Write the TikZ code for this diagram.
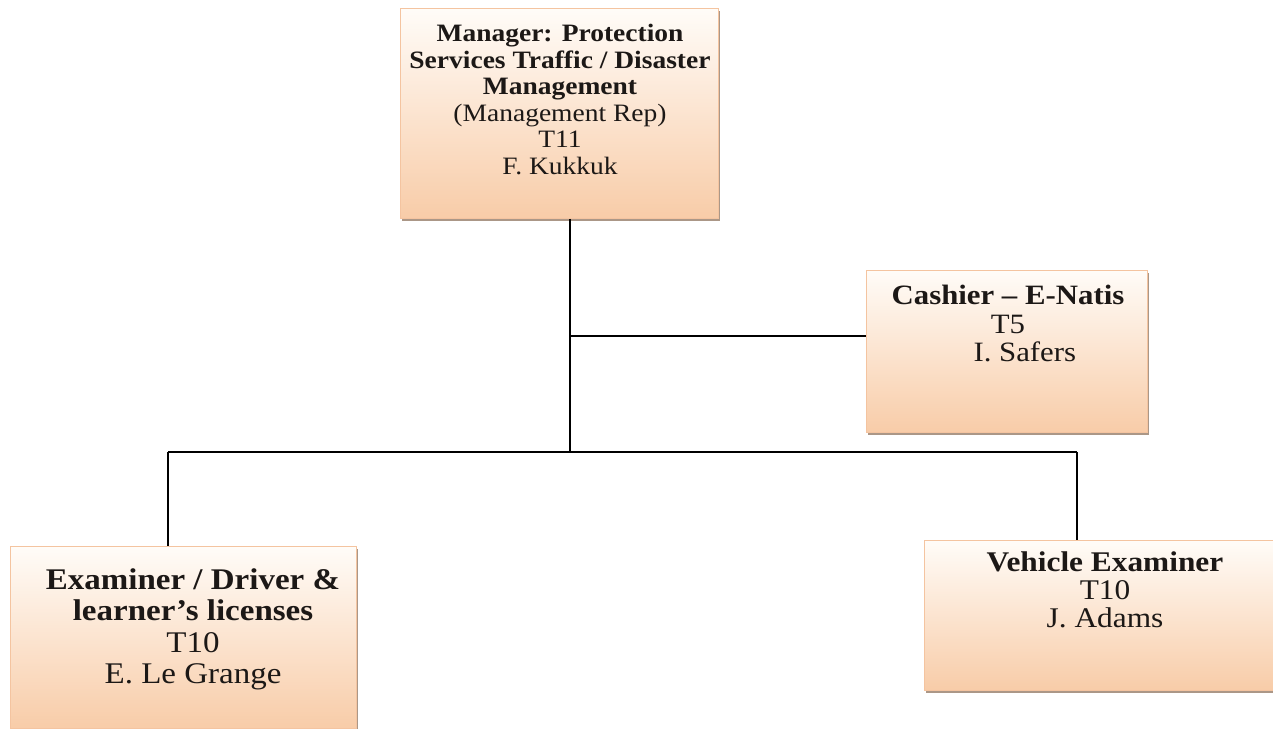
\documentclass[tikz,border=0pt]{standalone}
\usepackage{fontspec}
\setmainfont[FakeStretch=1.1]{Liberation Serif}
\usetikzlibrary{shadows}
\definecolor{peach}{RGB}{248,204,168}
\definecolor{peachtop}{RGB}{255,252,248}
\definecolor{peachline}{RGB}{244,196,160}
\definecolor{inkc}{RGB}{28,24,22}
\definecolor{shadowc}{RGB}{150,125,105}
\tikzset{
  orgbox/.style={rectangle, draw=peachline, line width=0.8pt,
    top color=peachtop, bottom color=peach,
    drop shadow={shadow xshift=2pt, shadow yshift=-3pt, fill=shadowc, opacity=0.8},
    inner sep=0pt},
  orgtext/.style={align=center, text=inkc, inner sep=0pt},
  link/.style={draw=black, line width=1.2pt}
}
\begin{document}
\begin{tikzpicture}[x=1pt,y=-1pt]
\useasboundingbox (0,0) rectangle (1273,728);
% boxes
\node[orgbox, minimum width=318pt, minimum height=210pt, anchor=north west] (mgr) at (400,8) {};
\node[orgbox, minimum width=281pt, minimum height=162pt, anchor=north west] (cash) at (866,270) {};
\node[orgbox, minimum width=346pt, minimum height=182pt, anchor=north west] (exam) at (10,546) {};
\node[orgbox, minimum width=352pt, minimum height=150pt, anchor=north west] (veh) at (924,540) {};
% texts
\node[orgtext, font=\fontsize{25}{26.6}\selectfont, anchor=north] (mgrtxt) at (560,24)
  {\textbf{Manager: Protection}\\ \textbf{Services Traffic / Disaster}\\ \textbf{Management}\\ (Management Rep)\\ T11\\ F. Kukkuk};
\node[orgtext, font=\fontsize{28}{28.5}\selectfont, anchor=north] (cashtxt) at (1008,285)
  {\textbf{Cashier – E-Natis}\\ T5\\ \hspace*{1.2em}I. Safers};
\node[orgtext, font=\fontsize{30}{31.5}\selectfont, anchor=north] (examtxt) at (193,568)
  {\textbf{Examiner / Driver \&}\\ \textbf{learner’s licenses}\\ T10\\ E. Le Grange};
\node[orgtext, font=\fontsize{28.5}{27.8}\selectfont, anchor=north] (vehtxt) at (1105,552)
  {\textbf{Vehicle Examiner}\\ T10\\ J. Adams};
% connectors
\coordinate (hub) at (570,452);
\coordinate (cashjoin) at (570,336);
\coordinate (leftjoin) at (168,452);
\coordinate (rightjoin) at (1077,452);
\draw[link] (mgr.south -| hub) -- (hub);
\draw[link] (cashjoin) -- (cashjoin -| cash.west);
\draw[link] (leftjoin) -- (rightjoin);
\draw[link] (leftjoin) -- (leftjoin |- exam.north);
\draw[link] (rightjoin) -- (rightjoin |- veh.north);
\end{tikzpicture}
\end{document}
